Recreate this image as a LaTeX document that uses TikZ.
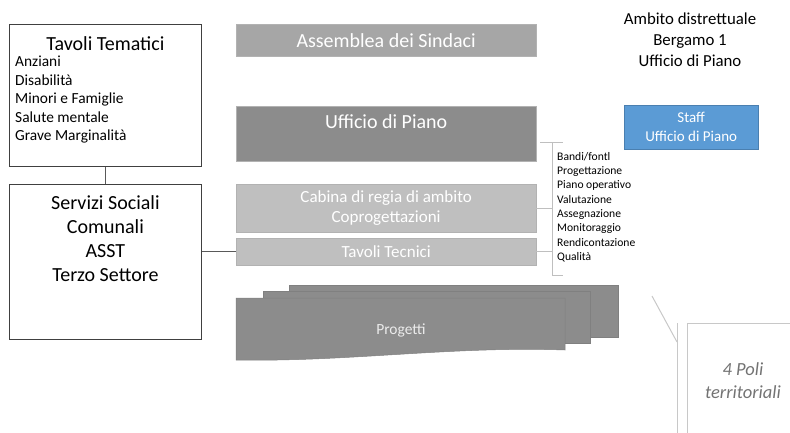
\documentclass[tikz,border=0pt]{standalone}
\usepackage{fontspec}
\setmainfont{Carlito}
\usepackage{xcolor}
\usepackage{tikz}
\usetikzlibrary{
	positioning,
	}
\definecolor{bardark}{HTML}{8C8C8C}
\definecolor{barmid}{HTML}{A6A6A6}
\definecolor{barlight}{HTML}{BFBFBF}
\definecolor{staffblue}{HTML}{5B9BD5}
\definecolor{staffedge}{HTML}{4A7FB0}
\definecolor{lineclr}{HTML}{595959}
\definecolor{bracketclr}{HTML}{BFBFBF}
\definecolor{poliline}{HTML}{C8C8C8}

\begin{document}
\begin{tikzpicture}[x=1pt, y=-1pt,
	outbox/.style={draw=black!75, line width=0.8pt, anchor=north west, inner sep=0pt, minimum width=192pt},
	bar/.style={anchor=north west, inner sep=0pt, minimum width=300pt, draw=white!70!black, line width=0.3pt},
	bartext/.style={text=white, align=center, inner sep=0pt},
	projshape/.style={fill=bardark, draw=black!50, line width=0.5pt},
	]
	\useasboundingbox (0,0) rectangle (790,432);
	\clip (0,0) rectangle (790,432);

	\node[outbox, minimum height=142pt] (tematici) at (9,24) {};
	\node[inner sep=0pt, font=\fontsize{20}{23}\selectfont, below=12pt of tematici.north] (tematicititle) {Tavoli Tematici};
	\node[inner sep=0pt, align=left, anchor=north west, font=\fontsize{15.4}{18.5}\selectfont] (tematicilist) at (15,56) {Anziani\\Disabilità\\Minori e Famiglie\\Salute mentale\\Grave Marginalità};

	\node[outbox, minimum height=155pt] (servizi) at (9,184) {};
	\node[inner sep=0pt, align=center, font=\fontsize{20}{24}\selectfont, below=11pt of servizi.north] (servizitext) {Servizi Sociali\\Comunali\\ASST\\Terzo Settore};

	\node[bar, fill=barmid, minimum height=32pt] (assemblea) at (236,24) {};
	\node[bartext, font=\fontsize{20}{23}\selectfont] (assembleatext) at (assemblea) {Assemblea dei Sindaci};

	\node[bar, fill=bardark, minimum height=55pt] (ufficio) at (236,106) {};
	\node[bartext, font=\fontsize{20}{23}\selectfont, below=8pt of ufficio.north] (ufficiotext) {Ufficio di Piano};

	\node[bar, fill=barlight, minimum height=48pt] (cabina) at (236,184) {};
	\node[bartext, font=\fontsize{17}{20}\selectfont] (cabinatext) at (cabina) {Cabina di regia di ambito\\Coprogettazioni};

	\node[bar, fill=barlight, minimum height=27pt] (tecnici) at (236,238) {};
	\node[bartext, font=\fontsize{17}{20}\selectfont] (tecnicitext) at (tecnici) {Tavoli Tecnici};

	\node[align=center, inner sep=0pt, font=\fontsize{16.8}{21}\selectfont] (ambito) at (690,40) {Ambito distrettuale\\Bergamo 1\\Ufficio di Piano};

	\node[anchor=north west, fill=staffblue, draw=staffedge, line width=0.4pt, minimum width=134pt, minimum height=44pt, inner sep=0pt, text=white, align=center, font=\fontsize{15}{19}\selectfont] (staff) at (624,105) {Staff\\Ufficio di Piano};

	\node[anchor=north west, inner sep=0pt, align=left, font=\fontsize{11.6}{14.3}\selectfont] (attivita) at (557,152) {Bandi/fontl\\Progettazione\\Piano operativo\\Valutazione\\Assegnazione\\Monitoraggio\\Rendicontazione\\Qualità};

	\coordinate (brtopleft) at (540,142);
	\coordinate (brtop) at (552,142);
	\coordinate (brtopright) at (563,142);
	\coordinate (brbot) at (552,275);
	\coordinate (brbotright) at (563,275);
	\draw[bracketclr, line width=0.8pt] (brtopleft) -- (brtopright);
	\draw[bracketclr, line width=0.8pt] (brtop) -- (brbot) -- (brbotright);
	\draw[bracketclr, line width=0.8pt] (cabina.east) -- (cabina.east -| brtop);
	\draw[bracketclr, line width=0.8pt] (tecnici.east) -- (tecnici.east -| brtop);

	\draw[lineclr, line width=0.8pt] (tematici) -- (servizi);
	\draw[lineclr, line width=0.8pt] (tecnici.west) -- (tecnici.west -| servizi.east);

	\filldraw[projshape] (289,285) rectangle (618,337);
	\filldraw[projshape] (263,291) rectangle (590,343);
	\filldraw[projshape] (236,298) -- (565,298) -- (565,350) .. controls (450,346) and (350,362) .. (236,360) -- cycle;
	\node[text=white!92!black, inner sep=0pt, font=\fontsize{15.5}{18}\selectfont] (progetti) at (401,330) {Progetti};

	\node[anchor=north west, draw=poliline, line width=1.2pt, minimum width=130pt, minimum height=130pt, inner sep=0pt] (poli) at (687,323) {};
	\node[align=center, inner sep=0pt, text=black!55, font=\itshape\fontsize{18.5}{23}\selectfont] (politext) at (743,381) {4 Poli\\territoriali};
	\coordinate (politip) at (652,296);
	\coordinate (polibend) at (677,342);
	\draw[poliline, line width=1pt] (politip) -- (polibend);
	\draw[poliline, line width=1pt] (polibend |- poli.north) -- (polibend |- poli.south);
\end{tikzpicture}
\end{document}
